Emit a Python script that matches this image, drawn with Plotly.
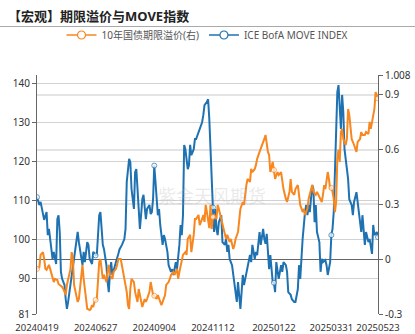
import pandas as pd
import plotly.graph_objects as go

# ---------------- data ----------------
tick_labels = ["20240419", "20240627", "20240904", "20241112", "20250122", "20250331", "20250523"]
left_ticks = [81, 90, 100, 110, 120, 130, 140]
right_ticks = [-0.3, 0, 0.3, 0.6, 0.9, 1.008]
right_tick_text = ["-0.3", "0", "0.3", "0.6", "0.9", "1.008"]

# trading-day number (weekdays counted from 2024-04-19) and ICE BofA MOVE index
move_day = [0, 2, 3, 5, 6, 8, 9, 10, 12, 13, 14, 16, 17, 18, 19, 20, 21, 23, 24, 25, 26, 28, 29, 31, 33, 34, 35, 37, 38, 39,
            40, 42, 43, 44, 46, 47, 48, 49, 50, 52, 53, 54, 55, 56, 58, 59, 60, 61, 62, 63, 65, 66, 68, 69, 71, 72, 73, 74, 75, 77,
            78, 79, 80, 81, 82, 83, 84, 85, 86, 87, 88, 89, 90, 91, 92, 94, 95, 96, 97, 98, 99, 100, 101, 102, 103, 105, 106, 107, 109, 110,
            112, 113, 114, 116, 117, 119, 120, 121, 122, 123, 124, 126, 127, 128, 129, 131, 132, 133, 135, 136, 138, 139, 140, 142, 143, 144,
            145, 146, 147, 148, 149, 150, 151, 152, 154, 155, 157, 158, 159, 160, 161, 163, 164, 166, 167, 168, 169, 170, 171, 172, 173, 175,
            176, 178, 179, 180, 182, 183, 184, 186, 187, 189, 190, 191, 192, 193, 194, 195, 196, 197, 198, 199, 200, 201, 202, 204, 205, 206,
            208, 209, 210, 212, 213, 215, 216, 218, 219, 220, 221, 222, 224, 225, 226, 227, 228, 229, 230, 231, 232, 233, 234, 236, 237, 238,
            239, 241, 242, 243, 245, 246, 247, 248, 249, 250, 251, 252, 253, 254, 255, 256, 257, 259, 260, 261, 263, 264, 265, 267, 268, 270,
            271, 272, 274, 275, 277, 278, 279, 280, 281, 282, 284, 285]
move = [110.9, 108.9, 109.7, 107.1, 105.1, 107.1, 101.2, 102.8, 97.6, 95.1, 96.9, 93.8, 105.3, 106.3, 102.0, 91.8, 90.0, 88.4, 84.8, 82.3,
        84.1, 88.4, 91.8, 95.1, 100.2, 102.0, 99.4, 95.1, 93.5, 96.9, 94.3, 99.4, 98.7, 95.1, 93.8, 96.9, 96.4, 96.0, 96.1, 106.3,
        107.1, 102.8, 98.7, 97.6, 93.5, 89.2, 86.6, 91.8, 94.3, 91.0, 93.5, 94.3, 96.4, 97.6, 98.7, 99.4, 100.2, 102.8, 114.8, 120.7,
        119.9, 113.0, 110.4, 107.9, 117.3, 118.1, 113.0, 106.3, 102.8, 106.3, 110.4, 111.5, 107.1, 105.3, 107.9, 108.9, 106.6, 107.1, 110.4, 119.0,
        115.0, 111.5, 106.3, 107.9, 103.8, 98.7, 101.2, 100.2, 96.9, 93.5, 91.8, 92.5, 91.0, 94.3, 92.5, 98.7, 103.8, 101.2, 106.3, 124.3,
        123.2, 118.1, 119.1, 124.3, 121.7, 123.2, 125.8, 125.8, 127.6, 128.4, 130.1, 131.9, 134.5, 135.3, 136.0, 131.0, 122.0, 112.0, 108.3, 102.0,
        107.9, 102.8, 101.2, 104.5, 106.3, 99.4, 98.7, 100.2, 96.9, 98.7, 95.1, 93.5, 91.0, 86.6, 84.1, 89.2, 84.8, 82.3, 86.6, 91.0,
        88.4, 91.8, 93.5, 96.1, 94.3, 98.7, 95.1, 96.9, 96.1, 102.0, 98.7, 102.8, 100.2, 99.0, 101.5, 97.0, 92.5, 96.1, 91.8, 89.2,
        89.0, 86.6, 94.3, 91.8, 90.0, 93.5, 91.8, 94.3, 93.5, 91.8, 86.6, 85.9, 84.8, 84.1, 84.1, 87.4, 93.5, 90.0, 96.9, 100.2,
        107.1, 108.9, 106.3, 108.9, 107.1, 110.4, 114.0, 113.0, 104.5, 108.9, 102.0, 99.4, 91.8, 95.1, 94.3, 94.8, 93.5, 91.0, 94.3, 101.2,
        102.8, 107.1, 117.3, 130.1, 137.8, 139.6, 134.5, 128.4, 137.1, 132.7, 123.2, 117.3, 115.6, 110.4, 108.9, 106.3, 109.7, 112.2, 109.7, 104.5,
        102.0, 106.3, 98.7, 102.0, 99.4, 100.2, 97.6, 96.4, 103.8, 101.2, 102.0, 100.7]

# trading-day number and 10Y treasury term premium (right axis)
tp_day = [0, 2, 3, 5, 6, 7, 8, 10, 11, 13, 14, 15, 17, 18, 19, 21, 22, 24, 25, 26, 28, 29, 30, 31, 33, 34, 35, 37, 38, 39,
          41, 42, 44, 45, 46, 47, 48, 49, 50, 52, 53, 54, 55, 56, 58, 59, 60, 61, 63, 64, 66, 67, 68, 70, 71, 72, 73, 74, 75, 76,
          77, 78, 79, 81, 82, 84, 85, 86, 87, 88, 90, 91, 92, 94, 95, 96, 97, 98, 100, 101, 103, 104, 105, 107, 108, 110, 111, 112, 114, 115,
          117, 118, 119, 121, 122, 124, 125, 126, 128, 129, 131, 132, 133, 135, 136, 138, 139, 140, 141, 142, 143, 144, 145, 146, 147, 148,
          150, 151, 152, 154, 155, 157, 158, 159, 161, 162, 164, 165, 166, 168, 169, 170, 172, 173, 175, 176, 178, 179, 180, 182, 183, 184,
          186, 187, 189, 190, 191, 192, 193, 194, 195, 197, 198, 199, 201, 202, 204, 205, 206, 208, 209, 211, 212, 213, 215, 216, 218, 219,
          220, 222, 223, 224, 226, 227, 229, 230, 231, 233, 234, 235, 237, 238, 239, 240, 241, 242, 243, 244, 245, 246, 247, 248, 249, 250,
          251, 252, 253, 254, 255, 256, 258, 259, 260, 261, 262, 263, 265, 266, 267, 268, 270, 271, 272, 274, 275, 277, 278, 279, 281, 282,
          283, 284, 285]
tp = [-0.053, -0.043, 0.023, 0.039, 0.001, -0.053, -0.059, -0.031, -0.053, -0.108, -0.125, -0.108, -0.114, -0.136, -0.141, -0.152, -0.163, -0.196, -0.141, -0.108,
      -0.053, 0.039, 0.001, -0.141, -0.218, -0.234, -0.218, -0.108, -0.031, -0.108, -0.234, -0.272, -0.278, -0.272, -0.251, -0.262, -0.234, -0.223, -0.218, -0.015,
      0.001, -0.053, -0.108, -0.086, -0.125, -0.070, -0.031, -0.086, -0.108, -0.070, -0.053, -0.031, 0.001, 0.001, -0.031, -0.070, -0.108, -0.141, -0.179, -0.251,
      -0.272, -0.163, -0.108, -0.125, -0.179, -0.234, -0.163, -0.196, -0.234, -0.262, -0.218, -0.234, -0.218, -0.179, -0.125, -0.163, -0.196, -0.200, -0.218, -0.196,
      -0.234, -0.251, -0.234, -0.196, -0.141, -0.125, -0.108, -0.086, -0.070, -0.086, -0.053, -0.108, -0.070, -0.015, 0.023, 0.039, 0.023, 0.111, 0.133, 0.039,
      0.133, 0.220, 0.220, 0.242, 0.187, 0.220, 0.242, 0.204, 0.297, 0.258, 0.220, 0.170, 0.297, 0.165, 0.231, 0.242,
      0.220, 0.297, 0.275, 0.220, 0.204, 0.133, 0.111, 0.133, 0.094, 0.111, 0.056, 0.078, 0.111, 0.149, 0.204, 0.275, 0.313, 0.297, 0.406, 0.439, 0.423, 0.494, 0.477, 0.494, 0.516, 0.549,
      0.587, 0.603, 0.642, 0.658, 0.680, 0.620, 0.587, 0.570, 0.477, 0.532, 0.488, 0.439, 0.477, 0.461, 0.477, 0.423, 0.384, 0.330, 0.313, 0.368, 0.439, 0.368, 0.352, 0.384, 0.406, 0.352,
      0.297, 0.258, 0.275, 0.242, 0.275, 0.330, 0.384, 0.406, 0.368, 0.352, 0.368, 0.352, 0.330, 0.313, 0.352, 0.406, 0.384, 0.423, 0.477, 0.439, 0.384, 0.390, 0.368, 0.330, 0.258, 0.313,
      0.549, 0.600, 0.532, 0.696, 0.713, 0.658, 0.625, 0.658, 0.822, 0.789, 0.713, 0.658, 0.625, 0.603, 0.587, 0.642, 0.658, 0.696, 0.680, 0.680, 0.696, 0.685, 0.751, 0.713, 0.789, 0.822,
      0.915, 0.899, 0.880]

# ---------------- figure ----------------
days = pd.bdate_range("2024-04-19", "2025-05-23")
move_x = days[move_day]
tp_x = days[tp_day]
tick_x = pd.to_datetime(tick_labels, format="%Y%m%d")
tick_set = set(tick_x)

ORANGE = "#F7871F"
BLUE = "#1F72B2"
FONT = "Noto Sans, Noto Sans CJK SC, sans-serif"


def marker_spec(xs, color):
    sizes = [5 if x in tick_set else 0 for x in xs]
    widths = [1 if x in tick_set else 0 for x in xs]
    return dict(symbol="circle", size=sizes, color="white",
                line=dict(color=color, width=widths))


fig = go.Figure()
fig.add_trace(go.Scatter(x=tp_x, y=tp, name="10年国债期限溢价(右)", yaxis="y2",
                         mode="lines+markers", line=dict(color=ORANGE, width=2),
                         marker=marker_spec(tp_x, ORANGE), showlegend=False, legendgroup="tp"))
fig.add_trace(go.Scatter(x=move_x, y=move, name="ICE BofA MOVE INDEX", yaxis="y",
                         mode="lines+markers", line=dict(color=BLUE, width=2),
                         marker=marker_spec(move_x, BLUE), showlegend=False, legendgroup="move"))
# legend entries (constant-size symbols)
for nm, col, grp, ax in [("10年国债期限溢价(右)", ORANGE, "tp", "y2"), ("ICE BofA MOVE INDEX", BLUE, "move", "y")]:
    fig.add_trace(go.Scatter(x=[None], y=[None], name=nm, yaxis=ax, mode="lines+markers",
                             line=dict(color=col, width=1.5), legendgroup=grp,
                             marker=dict(symbol="circle", size=8, color="white", line=dict(color=col, width=1.2))))

r_lo, r_hi = -0.3, 1.008
zero_pos = (0 - r_lo) / (r_hi - r_lo)

W, H = 415, 334
L, R, T, B = 37, 37, 75, 20
pw, ph = W - L - R, H - T - B

xcommon = dict(type="date", range=[days[0], days[-1]],
               rangebreaks=[dict(bounds=["sat", "mon"])],
               tickmode="array", tickvals=tick_x, ticktext=tick_labels,
               showgrid=False, zeroline=False, tickangle=0, automargin=False)

fig.update_layout(
    width=W, height=H,
    margin=dict(l=L, r=R, t=T, b=B, pad=0, autoexpand=False),
    paper_bgcolor="white", plot_bgcolor="white",
    font=dict(family=FONT, size=10, color="#333"),
    title=dict(text="<b>【宏观】期限溢价与MOVE指数</b>", font=dict(size=13, color="#222", family=FONT),
               xref="container", x=8 / W, xanchor="left",
               yref="container", y=1 - 16 / H, yanchor="middle"),
    showlegend=True,
    legend=dict(orientation="h", x=0.5, xanchor="center", y=(H - B - 35) / ph,
                yanchor="middle", font=dict(size=10, color="#555"), bgcolor="rgba(0,0,0,0)",
                itemwidth=30, tracegroupgap=0),
    xaxis=dict(**xcommon, ticks="outside", ticklen=5, tickcolor="rgba(0,0,0,0)", showline=False,
               tickfont=dict(size=9.5, color="#333")),
    xaxis2=dict(**xcommon, overlaying="x", anchor="free", position=zero_pos,
                showticklabels=False, ticks="outside", ticklen=4, tickcolor="#666", showline=False),
    yaxis=dict(range=[81, 142.2], tickmode="array", tickvals=left_ticks, automargin=False,
               showline=True, linecolor="#666", linewidth=1, ticks="outside", ticklen=4, tickcolor="#666",
               showgrid=True, gridcolor="#d2d2d2", gridwidth=1, zeroline=False,
               tickfont=dict(size=10, color="#333")),
    yaxis2=dict(range=[r_lo, r_hi], tickmode="array", tickvals=right_ticks, ticktext=right_tick_text,
                overlaying="y", side="right", anchor="x", automargin=False,
                showline=True, linecolor="#666", linewidth=1, ticks="outside", ticklen=4, tickcolor="#666",
                showgrid=True, gridcolor="#e4e4e4", gridwidth=1.5,
                zeroline=True, zerolinecolor="#666", zerolinewidth=1,
                tickfont=dict(size=10, color="#333")),
    shapes=[dict(type="line", xref="paper", yref="paper",
                 x0=-L / pw, x1=(W - L) / pw, y0=(H - B - 26.5) / ph, y1=(H - B - 26.5) / ph,
                 line=dict(color="#aaaaaa", width=1))],
    annotations=[dict(text="紫金天风期货", xref="paper", yref="paper",
                      x=(212 - L) / pw, y=(H - B - 196) / ph, showarrow=False,
                      font=dict(size=18, color="rgba(170,170,170,0.25)", family=FONT))],
)

fig.write_html("out.html")
